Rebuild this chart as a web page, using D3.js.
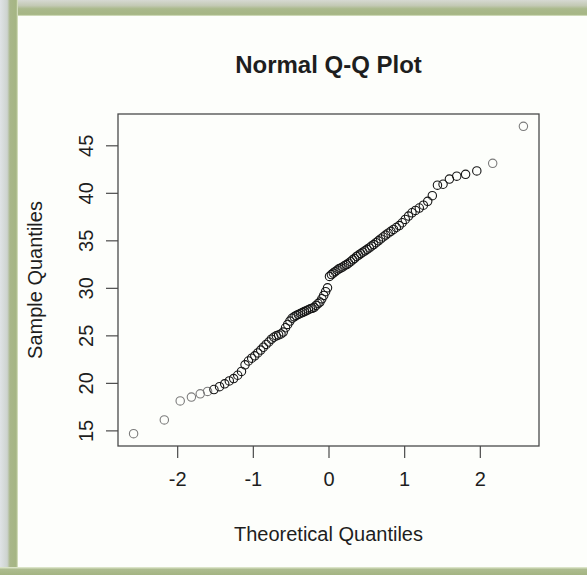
<!DOCTYPE html>
<html>
<head>
<meta charset="utf-8">
<script src="https://cdn.jsdelivr.net/npm/d3@7"></script>
<style>
  html, body { margin: 0; padding: 0; background: #ffffff; overflow: hidden; }
  svg { display: block; }
  text { font-family: "Liberation Sans", Arial, Helvetica, sans-serif; fill: #1e1e1e; }
</style>
</head>
<body>
<svg id="chart" width="587" height="575"></svg>
<script>
// Theoretical normal quantiles for n = 100 (ppoints), one per observation
const theoretical = [
  -2.576, -2.170, -1.960, -1.812, -1.695, -1.598, -1.514, -1.440, -1.372, -1.311,
  -1.254, -1.200, -1.150, -1.103, -1.058, -1.015, -0.974, -0.935, -0.896, -0.860,
  -0.824, -0.789, -0.755, -0.722, -0.690, -0.659, -0.628, -0.598, -0.568, -0.539,
  -0.510, -0.482, -0.454, -0.426, -0.399, -0.372, -0.345, -0.319, -0.292, -0.266,
  -0.240, -0.215, -0.189, -0.164, -0.138, -0.113, -0.088, -0.063, -0.038, -0.013,
   0.013,  0.038,  0.063,  0.088,  0.113,  0.138,  0.164,  0.189,  0.215,  0.240,
   0.266,  0.292,  0.319,  0.345,  0.372,  0.399,  0.426,  0.454,  0.482,  0.510,
   0.539,  0.568,  0.598,  0.628,  0.659,  0.690,  0.722,  0.755,  0.789,  0.824,
   0.860,  0.896,  0.935,  0.974,  1.015,  1.058,  1.103,  1.150,  1.200,  1.254,
   1.311,  1.372,  1.440,  1.514,  1.598,  1.695,  1.812,  1.960,  2.170,  2.576
];

// Sorted sample values
const sample = [
  14.65, 16.10, 18.10, 18.50, 18.85, 19.10, 19.30, 19.60, 19.90, 20.20,
  20.45, 20.80, 21.20, 21.90, 22.30, 22.60, 22.85, 23.15, 23.45, 23.75,
  24.05, 24.30, 24.60, 24.80, 24.95, 25.05, 25.15, 25.35, 25.80, 26.15,
  26.50, 26.80, 26.95, 27.10, 27.20, 27.30, 27.40, 27.50, 27.60, 27.70,
  27.80, 27.85, 27.95, 28.15, 28.35, 28.50, 28.85, 29.20, 29.60, 30.00,
  31.20, 31.40, 31.55, 31.70, 31.85, 32.00, 32.10, 32.20, 32.35, 32.45,
  32.60, 32.75, 32.95, 33.10, 33.30, 33.45, 33.60, 33.75, 33.90, 34.05,
  34.20, 34.40, 34.55, 34.75, 34.95, 35.15, 35.35, 35.55, 35.75, 35.95,
  36.15, 36.35, 36.55, 36.85, 37.20, 37.55, 37.90, 38.15, 38.40, 38.70,
  39.10, 39.70, 40.80, 40.90, 41.45, 41.75, 41.95, 42.30, 43.10, 47.00
];

const xTicks = [-2, -1, 0, 1, 2];
const yTicks = [15, 20, 25, 30, 35, 40, 45];
const chartTitle = "Normal Q-Q Plot";
const xTitle = "Theoretical Quantiles";
const yTitle = "Sample Quantiles";

const W = 587, H = 575;
const svg = d3.select("#chart");
const defs = svg.append("defs");

// ---- page frame: green border with a soft grey shadow ----
const topGrad = defs.append("linearGradient").attr("id", "topBand")
  .attr("x1", 0).attr("y1", 0).attr("x2", 0).attr("y2", 1);
[["0%", "#d6d9d2"], ["35%", "#c3c9b4"], ["55%", "#aab98c"], ["90%", "#a6b685"], ["100%", "#dfe8cc"]]
  .forEach(([o, c]) => topGrad.append("stop").attr("offset", o).attr("stop-color", c));

const leftGrad = defs.append("linearGradient").attr("id", "leftBand")
  .attr("x1", 0).attr("y1", 0).attr("x2", 1).attr("y2", 0);
[["0%", "#dfe3e6"], ["40%", "#cdd3cf"], ["55%", "#a9b78a"], ["90%", "#a5b583"], ["100%", "#e2eacf"]]
  .forEach(([o, c]) => leftGrad.append("stop").attr("offset", o).attr("stop-color", c));

const botGrad = defs.append("linearGradient").attr("id", "botBand")
  .attr("x1", 0).attr("y1", 0).attr("x2", 0).attr("y2", 1);
[["0%", "#e6eed6"], ["30%", "#adbc8f"], ["100%", "#a4b482"]]
  .forEach(([o, c]) => botGrad.append("stop").attr("offset", o).attr("stop-color", c));

svg.append("rect").attr("x", 0).attr("y", 0).attr("width", W).attr("height", H).attr("fill", "#fdfefb");
svg.append("rect").attr("x", 0).attr("y", 0).attr("width", W).attr("height", 16).attr("fill", "url(#topBand)");
svg.append("rect").attr("x", 0).attr("y", 0).attr("width", 18).attr("height", H).attr("fill", "url(#leftBand)");
svg.append("rect").attr("x", 0).attr("y", 567).attr("width", W).attr("height", H - 567).attr("fill", "url(#botBand)");

// ---- plotting region ----
const plot = { left: 118, top: 114, right: 539, bottom: 446 };
const pad = ext => { const d = (ext[1] - ext[0]) * 0.04; return [ext[0] - d, ext[1] + d]; };

const x = d3.scaleLinear().domain(pad(d3.extent(theoretical))).range([plot.left, plot.right]);
const y = d3.scaleLinear().domain(pad(d3.extent(sample))).range([plot.bottom, plot.top]);

const axisColor = "#4a4a4a";

// x axis ticks and labels
const gx = svg.append("g").attr("transform", `translate(0,${plot.bottom})`)
  .call(d3.axisBottom(x).tickValues(xTicks).tickSize(12).tickPadding(14).tickFormat(d => String(d)));
gx.select(".domain").remove();
gx.selectAll("line").attr("stroke", axisColor).attr("stroke-width", 1.2);
gx.selectAll("text").attr("font-size", 20).style("font-family", null).attr("fill", "#1e1e1e");

// y axis ticks and labels (labels run parallel to the axis)
const gy = svg.append("g").attr("transform", `translate(${plot.left},0)`)
  .call(d3.axisLeft(y).tickValues(yTicks).tickSize(12).tickFormat(d => String(d)));
gy.select(".domain").remove();
gy.selectAll("line").attr("stroke", axisColor).attr("stroke-width", 1.2);
gy.selectAll("text")
  .attr("x", 0).attr("y", 0).attr("dy", "0.35em")
  .attr("transform", "translate(-32,0) rotate(-90)")
  .style("text-anchor", "middle")
  .attr("font-size", 20).style("font-family", null).attr("fill", "#1e1e1e");

// box around the plot
svg.append("rect")
  .attr("x", plot.left).attr("y", plot.top)
  .attr("width", plot.right - plot.left).attr("height", plot.bottom - plot.top)
  .attr("fill", "none").attr("stroke", axisColor).attr("stroke-width", 1.3);

// points
const pts = theoretical.map((t, i) => ({ t, v: sample[i] }));
svg.append("g").selectAll("circle").data(pts).join("circle")
  .attr("cx", d => x(d.t))
  .attr("cy", d => y(d.v))
  .attr("r", 4.2)
  .attr("fill", "none")
  .attr("stroke", d => (x(d.t) < 213 || x(d.t) > 483) ? "#7b7b7b" : "#151515")
  .attr("stroke-width", 1.1);

// titles
svg.append("text").attr("x", (plot.left + plot.right) / 2).attr("y", 65).attr("dy", "0.35em")
  .attr("text-anchor", "middle").attr("font-size", 24).attr("font-weight", "bold")
  .text(chartTitle);
svg.append("text").attr("x", (plot.left + plot.right) / 2).attr("y", 534).attr("dy", "0.35em")
  .attr("text-anchor", "middle").attr("font-size", 20)
  .text(xTitle);
svg.append("text").attr("transform", `translate(35,${(plot.top + plot.bottom) / 2}) rotate(-90)`)
  .attr("dy", "0.35em").attr("text-anchor", "middle").attr("font-size", 20)
  .text(yTitle);
</script>
</body>
</html>
